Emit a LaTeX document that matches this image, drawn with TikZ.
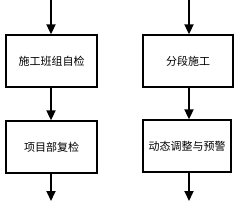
\documentclass[tikz,border=0pt]{standalone}
\usepackage{fontspec}
\newfontfamily\cjk{Noto Sans CJK SC}
\usetikzlibrary{arrows.meta}
\begin{document}
\begin{tikzpicture}[x=1pt,y=-1pt,
  boxnode/.style={draw,line width=1.3pt,minimum height=52pt,inner sep=0pt,font=\cjk\fontsize{11}{13}\selectfont},
  flow/.style={line width=1.8pt,-{Triangle[length=10pt,width=9pt]}}]
\useasboundingbox (0,0) rectangle (240,200);
\node[boxnode,minimum width=91pt] (a) at (51.5,61) {施工班组自检};
\node[boxnode,minimum width=91pt] (b) at (51.5,147) {项目部复检};
\node[boxnode,minimum width=90pt] (c) at (188,61) {分段施工};
\node[boxnode,minimum width=88pt] (d) at (187,146) {动态调整与预警};
\coordinate (a0) at (51,-2);
\coordinate (b1) at (51,201);
\coordinate (c0) at (189,-2);
\coordinate (d1) at (189,201);
\draw[flow] (a0) -- (a.north -| a0);
\draw[flow] (a.south -| a0) -- (b.north -| a0);
\draw[flow] (b.south -| b1) -- (b1);
\draw[flow] (c0) -- (c.north -| c0);
\draw[flow] (c.south -| c0) -- (d.north -| c0);
\draw[flow] (d.south -| d1) -- (d1);
\end{tikzpicture}
\end{document}
